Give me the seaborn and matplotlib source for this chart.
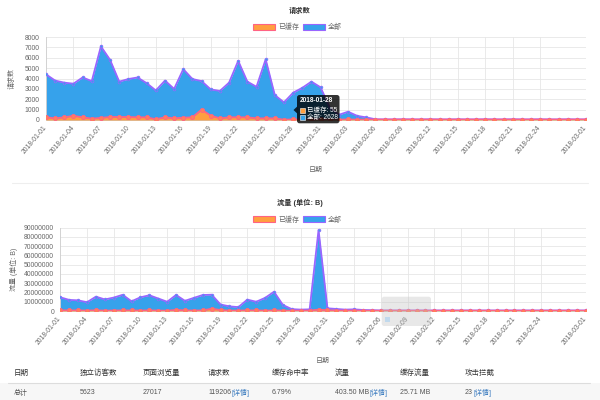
import numpy as np
import pandas as pd
import matplotlib
matplotlib.use("Agg")
import matplotlib.pyplot as plt
import matplotlib.transforms as mtrans
import seaborn as sns
from matplotlib.patches import Patch, FancyBboxPatch, Rectangle, Polygon
from matplotlib.lines import Line2D
from matplotlib.text import Annotation

# ---------------- data ----------------
dates = pd.date_range("2018-01-01", "2018-03-01").strftime("%Y-%m-%d").tolist()

req_all = [4400, 3800, 3600, 3500, 4100, 3750, 7100, 5800, 3700, 3950,
           4100, 3550, 2850, 3800, 3000, 4900, 3950, 3750, 2950, 2800,
           3600, 5700, 3700, 3200, 5850, 2400, 1700, 2628, 3100, 3700,
           3150, 1200, 500, 800, 400, 250, 70, 60, 60, 70,
           60, 60, 70, 60, 60, 70, 60, 60, 70, 60,
           60, 70, 60, 60, 70, 60, 60, 70, 60, 60]
req_cached = [260, 160, 260, 400, 260, 130, 200, 290, 290, 290,
              260, 260, 70, 260, 160, 220, 260, 1000, 420, 160,
              260, 260, 260, 160, 160, 160, 30, 55, 40, 50,
              60, 40, 40, 50, 40, 40, 40, 40, 40, 40,
              40, 40, 40, 40, 40, 40, 40, 40, 40, 40,
              40, 40, 40, 40, 40, 40, 40, 40, 40, 40]

traffic_all = [14800000, 12000000, 11500000, 9500000, 15500000, 12500000, 14500000, 17500000, 10500000, 14800000,
               17000000, 13500000, 10000000, 17300000, 11000000, 14200000, 17300000, 17600000, 7000000, 5000000,
               4200000, 12300000, 10000000, 14200000, 20800000, 6500000, 2000000, 1500000, 1800000, 87500000,
               2900000, 2200000, 1500000, 1800000, 1100000, 900000, 600000, 600000, 600000, 600000,
               600000, 600000, 600000, 600000, 600000, 600000, 600000, 600000, 600000, 600000,
               600000, 600000, 600000, 600000, 600000, 600000, 600000, 600000, 600000, 600000]
traffic_cached = [700000, 600000, 600000, 500000, 700000, 400000, 500000, 600000, 600000, 500000,
                  600000, 500000, 300000, 1200000, 600000, 500000, 600000, 2500000, 1000000, 400000,
                  500000, 600000, 600000, 400000, 600000, 500000, 300000, 300000, 400000, 1500000,
                  800000, 400000, 400000, 400000, 300000, 300000, 300000, 300000, 300000, 300000,
                  300000, 300000, 300000, 300000, 300000, 300000, 300000, 300000, 300000, 300000,
                  300000, 300000, 300000, 300000, 300000, 300000, 300000, 300000, 300000, 300000]

series_names = ["已缓存", "全部"]
tick_idx = list(range(0, 55, 3)) + [59]

table_headers = ["日期", "独立访客数", "页面浏览量", "请求数", "缓存命中率", "流量", "缓存流量", "攻击拦截"]
table_row = [("总计", ""), ("5623", ""), ("27017", ""), ("119206", "[详情]"), ("6.79%", ""),
             ("403.50 MB", "[详情]"), ("25.71 MB", ""), ("23", "[详情]")]

# ---------------- style ----------------
sns.set_style("white")
plt.rcParams["font.family"] = ["Liberation Sans", "Noto Sans CJK SC", "DejaVu Sans"]

W, H = 600, 400
fig = plt.figure(figsize=(6, 4), dpi=100)
fig.patch.set_facecolor("white")

def fx(x):
    return x / W

def fy(y):
    return 1 - y / H

BLUE_FILL = "#36a2eb"
BLUE_LINE = "#9966ff"
ORANGE_FILL = "#ff9f40"
ORANGE_LINE = "#ff6384"
GRID = "#e6e6e6"
TXT = "#666666"

x = np.arange(len(dates))


def draw_panel(ax, all_vals, cached_vals, ymax, ystep, ylabel, ylabel_x, xlabel_y):
    ax.fill_between(x, 0, all_vals, color=BLUE_FILL, lw=0, zorder=2)
    sns.lineplot(x=x, y=all_vals, ax=ax, color=BLUE_LINE, lw=1.3, marker="o",
                 markersize=2.0, markerfacecolor=BLUE_FILL, markeredgecolor=BLUE_LINE,
                 markeredgewidth=0.5, zorder=3)
    ax.fill_between(x, 0, cached_vals, color=ORANGE_FILL, lw=0, zorder=4)
    sns.lineplot(x=x, y=cached_vals, ax=ax, color=ORANGE_LINE, lw=1.3, marker="o",
                 markersize=3.0, markerfacecolor="#ff7f5a", markeredgecolor=ORANGE_LINE,
                 markeredgewidth=0.6, zorder=5)
    ax.set_xlim(0, len(dates) - 1)
    ax.set_ylim(0, ymax)
    ax.set_yticks(np.arange(0, ymax + 1, ystep))
    ax.set_yticklabels([str(int(v)) for v in np.arange(0, ymax + 1, ystep)])
    ax.set_xticks(tick_idx)
    ax.set_xticklabels([dates[i] for i in tick_idx], rotation=50, ha="right",
                       va="center", rotation_mode="anchor")
    ax.grid(True, color=GRID, lw=0.6)
    ax.set_axisbelow(True)
    for s in ["top", "right"]:
        ax.spines[s].set_visible(False)
    for s in ["left", "bottom"]:
        ax.spines[s].set_color("#cfcfcf")
        ax.spines[s].set_linewidth(0.6)
    ax.tick_params(axis="both", labelsize=4.9, colors=TXT, length=3, width=0.5,
                   color=GRID, pad=1.5)
    ax.set_ylabel(ylabel, fontsize=5.0, color=TXT)
    ax.yaxis.set_label_coords(ylabel_x, 0.5)
    ax.set_xlabel("日期", fontsize=5.0, color=TXT)
    ax.xaxis.set_label_coords(0.5, xlabel_y)
    ax.set_facecolor("white")


# top panel
ax1 = fig.add_axes([fx(46), fy(120), fx(586) - fx(46), fy(37) - fy(120)])
draw_panel(ax1, req_all, req_cached, 8000, 1000, "请求数", (16 - 46) / 540, (120 - 167) / 83)

# bottom panel
ax2 = fig.add_axes([fx(60.3), fy(311), fx(585.7) - fx(60.3), fy(227.7) - fy(311)])
draw_panel(ax2, traffic_all, traffic_cached, 90000000, 10000000, "流量 (单位: B)",
           (18 - 60.3) / 525.4, (311 - 358) / 83.3)

# titles and legends
handles = [Patch(facecolor=ORANGE_FILL, edgecolor=ORANGE_LINE, lw=0.8, label=series_names[0]),
           Patch(facecolor=BLUE_FILL, edgecolor=BLUE_LINE, lw=0.8, label=series_names[1])]
for ax, title, ty, ly in [(ax1, "请求数", 11, 27.5), (ax2, "流量 (单位: B)", 203, 220)]:
    fig.text(fx(300), fy(ty), title, ha="center", va="center", fontsize=5.2,
             color="#333333", fontweight="bold")
    leg = ax.legend(handles=handles, loc="center", bbox_to_anchor=(fx(297.5), fy(ly)),
                    bbox_transform=fig.transFigure, ncol=2, frameon=False, fontsize=5.0,
                    handlelength=3.2, handleheight=1.0, handletextpad=0.45,
                    columnspacing=0.5, borderpad=0)
    for t in leg.get_texts():
        t.set_color(TXT)

# separator between charts
fig.add_artist(Line2D([fx(12), fx(588)], [fy(183), fy(183)], transform=fig.transFigure,
                      color="#eeeeee", lw=0.8))

# tooltip on top chart (2018-01-28)
ident = mtrans.IdentityTransform()
def P(xp, yp):
    return (xp, H - yp)

tip = FancyBboxPatch(P(297, 123.3), 42.5, 28.3, boxstyle="round,pad=0,rounding_size=2.5",
                     transform=ident, facecolor=(0, 0, 0, 0.8), edgecolor="none", zorder=10)
fig.add_artist(tip)
fig.add_artist(Polygon([P(293.5, 110), P(297.2, 106.5), P(297.2, 113.5)], closed=True,
                       transform=ident, facecolor=(0, 0, 0, 0.8), edgecolor="none", zorder=10))
fig.text(fx(300), fy(101), dates[27], fontsize=4.7, color="white", fontweight="bold",
         ha="left", va="center", zorder=11)
fig.add_artist(Rectangle(P(300, 113), 5, 5, transform=ident, facecolor=ORANGE_FILL,
                         edgecolor="white", lw=0.4, zorder=11))
fig.text(fx(307), fy(110.5), "%s: %d" % (series_names[0], req_cached[27]), fontsize=4.7,
         color="white", ha="left", va="center", zorder=11)
fig.add_artist(Rectangle(P(300, 120), 5, 5, transform=ident, facecolor=BLUE_FILL,
                         edgecolor="white", lw=0.4, zorder=11))
fig.text(fx(307), fy(117.5), "%s: %d" % (series_names[1], req_all[27]), fontsize=4.7,
         color="white", ha="left", va="center", zorder=11)

# faded tooltip on bottom chart
fig.add_artist(FancyBboxPatch(P(381.7, 326), 49.3, 29.3, boxstyle="round,pad=0,rounding_size=2.5",
                              transform=ident, facecolor=(0.75, 0.75, 0.75, 0.35),
                              edgecolor="none", zorder=10))
fig.add_artist(Rectangle(P(385, 321.5), 5, 5, transform=ident, facecolor=(0.6, 0.8, 0.95, 0.5),
                         edgecolor="none", zorder=11))

# table
fig.add_artist(Rectangle((0, fy(400)), 1, fy(383) - fy(400), transform=fig.transFigure,
                         facecolor="#f7f7f7", edgecolor="none", zorder=0))
fig.add_artist(Line2D([fx(8), fx(590)], [fy(382.5), fy(382.5)], transform=fig.transFigure,
                      color="#dddddd", lw=0.8))
col_x = [14, 80, 143, 208, 272, 335, 400, 465]
for cx, h in zip(col_x, table_headers):
    fig.text(fx(cx), fy(373), h, fontsize=5.4, color="#333333", ha="left", va="center")

for cx, (main, link) in zip(col_x, table_row):
    t = fig.text(fx(cx), fy(393), main, fontsize=5.0, color="#555555", ha="left", va="center")
    if link:
        fig.add_artist(Annotation(link, xy=(1.0, 0.5), xycoords=t, xytext=(0.3, 0),
                                  textcoords="offset points", fontsize=5.0, color="#3a7bbf",
                                  ha="left", va="center"))

fig.savefig("out.png", dpi=100, facecolor="white")
